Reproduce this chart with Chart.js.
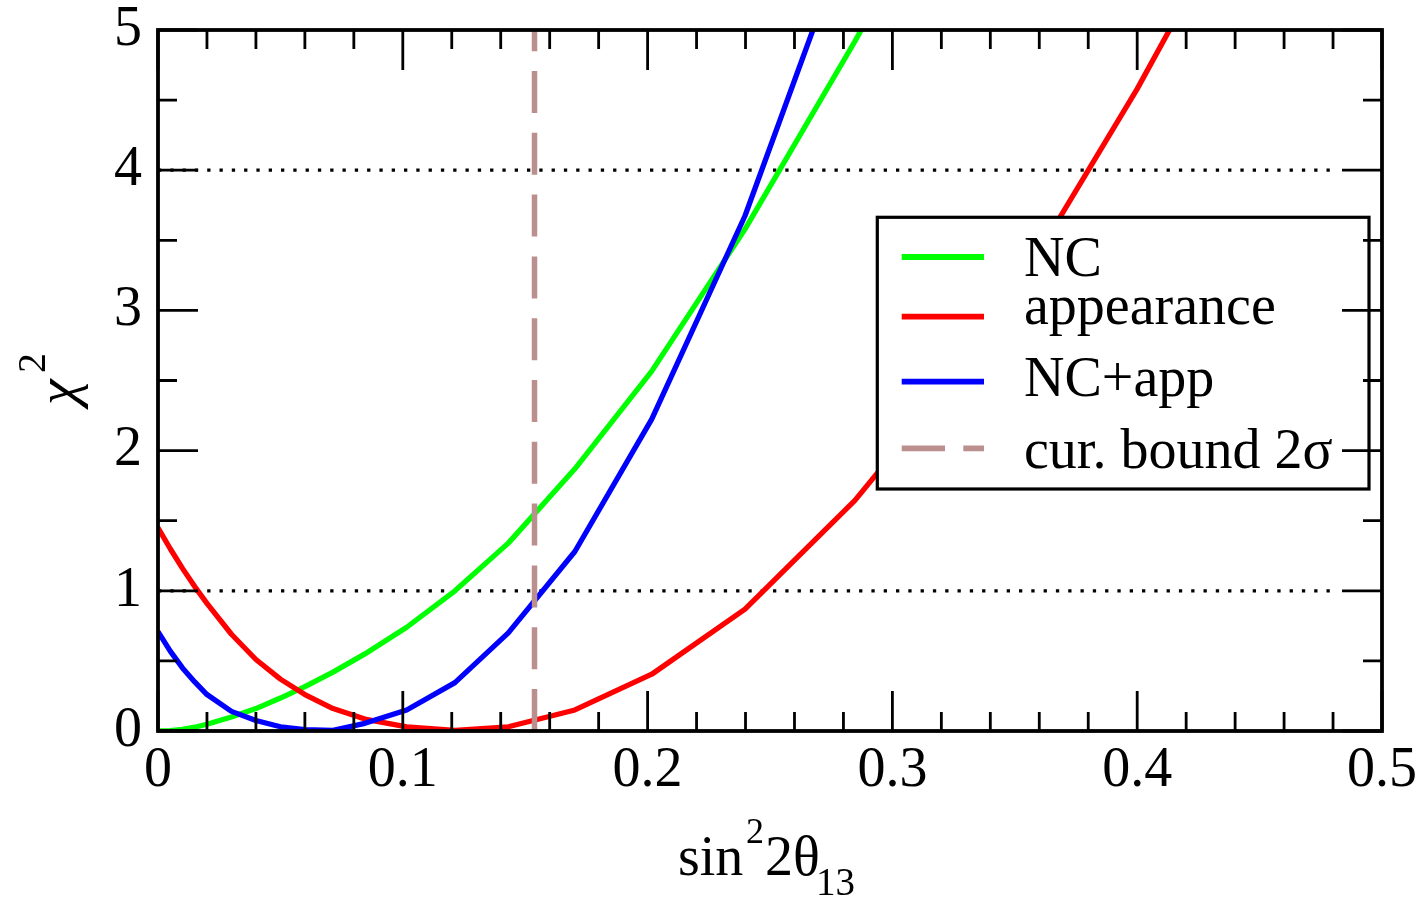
<!DOCTYPE html>
<html>
<head>
<meta charset="utf-8">
<script src="https://cdn.jsdelivr.net/npm/chart.js@4.4.1/dist/chart.umd.min.js"></script>
<style>
  html, body { margin: 0; padding: 0; background: #fff; }
  #wrap { width: 1423px; height: 902px; }
</style>
</head>
<body>
<div id="wrap"><canvas id="c" width="1423" height="902"></canvas></div>
<script>
// ---- data ----
const xs = [0, 0.005, 0.01, 0.015, 0.02, 0.03, 0.04, 0.05, 0.06, 0.0715, 0.0845, 0.1016, 0.1213, 0.1431, 0.1703, 0.2017, 0.2398, 0.2847, 0.338, 0.4, 0.476];
const ncValues   = [0, 0.003, 0.012, 0.027, 0.048, 0.10, 0.16, 0.235, 0.316, 0.42, 0.55, 0.74, 1.0, 1.34, 1.87, 2.567, 3.58, 4.92, 6.6, 9.0, 12.0];
const appValues  = [1.45, 1.30, 1.16, 1.03, 0.91, 0.69, 0.51, 0.37, 0.26, 0.16, 0.085, 0.03, 0.005, 0.03, 0.15, 0.405, 0.869, 1.645, 2.78, 4.58, 7.0];
const combValues = [0.709, 0.57, 0.45, 0.35, 0.26, 0.14, 0.075, 0.03, 0.01, 0.005, 0.055, 0.15, 0.345, 0.70, 1.28, 2.225, 3.675, 5.82, 8.5, 12.0, 16.0];
const boundX = [0.1538, 0.1538];
const boundY = [0, 5];
const refLevels = [1, 4];
const refLineX = [0, 0.48];
const seriesLabels = ['NC', 'appearance', 'NC+app', 'cur. bound 2\u03c3'];
const xTickValues = [0, 0.1, 0.2, 0.3, 0.4, 0.5];
const yTickValues = [0, 1, 2, 3, 4, 5];

const FONT = '"Liberation Serif", "Times New Roman", serif';
const pts = (xa, ya) => xa.map((x, i) => ({x: x, y: ya[i]}));

const datasets = [
  { label: seriesLabels[3], data: pts(boundX, boundY), borderColor: '#bc8f8f', borderWidth: 5.5,
    borderDash: [42, 19.8], order: 0, legendIdx: 3 },
  { label: seriesLabels[2], data: pts(xs, combValues), borderColor: '#0000ff', borderWidth: 5.3, order: 1, legendIdx: 2 },
  { label: seriesLabels[1], data: pts(xs, appValues), borderColor: '#ff0000', borderWidth: 5.3, order: 2, legendIdx: 1 },
  { label: seriesLabels[0], data: pts(xs, ncValues), borderColor: '#00ff00', borderWidth: 5.3, order: 3, legendIdx: 0 },
];
refLevels.forEach((lv, i) => datasets.push({
  label: 'ref' + lv, data: pts(refLineX, [lv, lv]), borderColor: '#000', borderWidth: 3.2,
  borderDash: [3.3, 9], order: 10 + i
}));
datasets.forEach(d => {
  d.pointRadius = 0; d.tension = 0; d.fill = false; d.clip = 0;
  d.borderCapStyle = 'butt'; d.borderJoinStyle = 'round';
});

// legend layout (pixel geometry)
const LEG = { x0: 877.3, y0: 217.3, x1: 1369, y1: 489, sx0: 901.7, sx1: 984, tx: 1024,
  rows: [ {ly: 257, by: 275.7}, {ly: 316.7, by: 324}, {ly: 381.7, by: 395.7}, {ly: 448.3, by: 467.7} ] };

const decor = {
  id: 'decor',
  afterDatasetsDraw(chart) {
    const ctx = chart.ctx, a = chart.chartArea;
    const sx = chart.scales.x, sy = chart.scales.y;
    ctx.save();
    // legend box
    ctx.fillStyle = '#fff';
    ctx.fillRect(LEG.x0, LEG.y0, LEG.x1 - LEG.x0, LEG.y1 - LEG.y0);
    ctx.strokeStyle = '#000'; ctx.lineWidth = 3.2; ctx.setLineDash([]);
    ctx.strokeRect(LEG.x0, LEG.y0, LEG.x1 - LEG.x0, LEG.y1 - LEG.y0);
    const entries = chart.data.datasets.filter(d => d.legendIdx !== undefined)
      .sort((p, q) => p.legendIdx - q.legendIdx);
    entries.forEach((d, i) => {
      const r = LEG.rows[i];
      ctx.beginPath();
      ctx.strokeStyle = d.borderColor; ctx.lineWidth = 5.8; ctx.lineCap = 'butt';
      ctx.setLineDash(d.borderDash ? [43.3, 18.3] : []);
      ctx.moveTo(LEG.sx0, r.ly); ctx.lineTo(LEG.sx1, r.ly); ctx.stroke();
      ctx.setLineDash([]);
      ctx.fillStyle = '#000'; ctx.font = '56px ' + FONT;
      ctx.textBaseline = 'alphabetic'; ctx.textAlign = 'left';
      ctx.fillText(d.label, LEG.tx, r.by);
    });
    // inward ticks
    ctx.strokeStyle = '#000'; ctx.lineWidth = 2.8; ctx.setLineDash([]);
    const majX = sx.ticks.map(t => t.value), majY = sy.ticks.map(t => t.value);
    const minors = (arr, n) => { const o = []; for (let i = 0; i < arr.length - 1; i++) for (let k = 1; k < n; k++) o.push(arr[i] + (arr[i+1] - arr[i]) * k / n); return o; };
    const tickX = (vals, len) => vals.forEach(v => { const p = sx.getPixelForValue(v);
      ctx.beginPath(); ctx.moveTo(p, a.bottom); ctx.lineTo(p, a.bottom - len);
      ctx.moveTo(p, a.top); ctx.lineTo(p, a.top + len); ctx.stroke(); });
    const tickY = (vals, len) => vals.forEach(v => { const p = sy.getPixelForValue(v);
      ctx.beginPath(); ctx.moveTo(a.left, p); ctx.lineTo(a.left + len, p);
      ctx.moveTo(a.right, p); ctx.lineTo(a.right - len, p); ctx.stroke(); });
    tickX(majX, 40); tickX(minors(majX, 5), 19);
    tickY(majY, 40); tickY(minors(majY, 2), 19);
    // frame
    ctx.lineWidth = 3.8;
    ctx.strokeRect(a.left, a.top, a.right - a.left, a.bottom - a.top);
    ctx.restore();
  },
  afterDraw(chart) {
    const ctx = chart.ctx;
    ctx.save();
    ctx.fillStyle = '#000'; ctx.textBaseline = 'alphabetic'; ctx.textAlign = 'left';
    // x title: sin^2 2θ_13
    ctx.font = '56px ' + FONT; ctx.fillText('sin', 678, 875);
    ctx.font = '36px ' + FONT; ctx.fillText('2', 746, 843);
    ctx.font = '56px ' + FONT; ctx.fillText('2\u03b8', 765, 875);
    ctx.font = '39px ' + FONT; ctx.fillText('13', 816, 895);
    // y title: χ^2
    ctx.translate(76, 405); ctx.rotate(-Math.PI / 2);
    ctx.font = 'italic 58px ' + FONT; ctx.fillText('\u03c7', 0, 0);
    ctx.font = '40px ' + FONT; ctx.fillText('2', 32, -31);
    ctx.restore();
  }
};

const noPadY = s => { s.width = 158; s.paddingTop = 0; s.paddingBottom = 0; };
const noPadX = s => { s.height = 171; s.paddingLeft = 0; s.paddingRight = 0; };

new Chart(document.getElementById('c'), {
  type: 'line',
  data: { datasets: datasets },
  options: {
    responsive: false, animation: false, devicePixelRatio: 1, events: [],
    layout: { padding: { top: 30, right: 41, left: 0, bottom: 0 } },
    plugins: { legend: { display: false }, tooltip: { enabled: false } },
    scales: {
      x: { type: 'linear', min: 0, max: 0.5,
        afterFit: noPadX,
        afterBuildTicks: s => { s.ticks = xTickValues.map(v => ({value: v})); },
        grid: { display: false, drawTicks: false }, border: { display: false },
        ticks: { padding: 7, color: '#000', font: { family: FONT, size: 56 }, maxRotation: 0, autoSkip: false,
          callback: v => String(Number(v.toFixed(1))) } },
      y: { type: 'linear', min: 0, max: 5,
        afterFit: noPadY,
        afterBuildTicks: s => { s.ticks = yTickValues.map(v => ({value: v})); },
        grid: { display: false, drawTicks: false }, border: { display: false },
        ticks: { padding: 16, color: '#000', font: { family: FONT, size: 56 }, autoSkip: false,
          callback: v => String(v) } }
    }
  },
  plugins: [decor]
});
</script>
</body>
</html>
